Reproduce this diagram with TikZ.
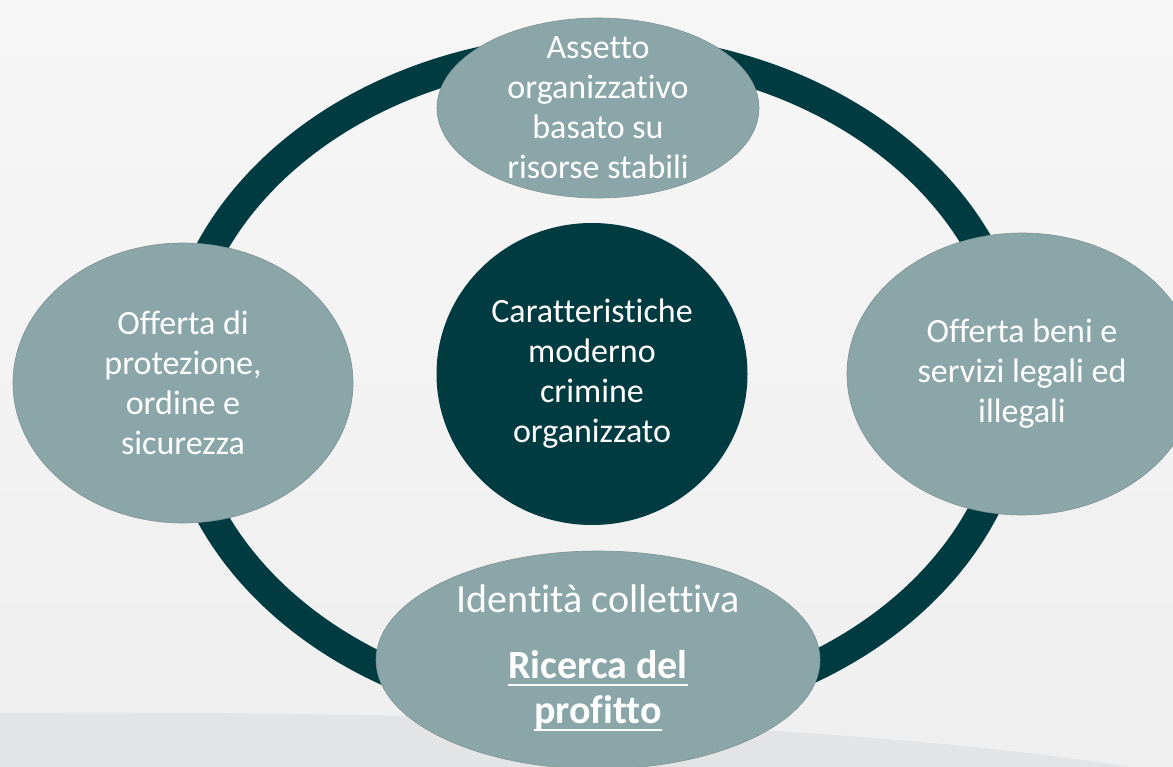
\documentclass[tikz,border=0pt]{standalone}
\usepackage{fontspec}
\setmainfont{Carlito}[Ligatures=NoCommon]
\usetikzlibrary{shapes.geometric}
\newcommand\ulined[1]{\setbox0\hbox{#1}\rlap{\rule[-0.17em]{\wd0}{0.05em}}\box0}
\begin{document}
\begin{tikzpicture}[x=1pt,y=-1pt,
  bubble/.style={ellipse,fill=bubblefill,draw=bubbleline,line width=0.6pt,inner sep=0pt},
  core/.style={ellipse,fill=ringteal,inner sep=0pt},
  bubbletext/.style={text=white,align=center,inner sep=0pt,font=\fontsize{34}{40}\selectfont}]
  \definecolor{ringteal}{HTML}{003B42}
  \definecolor{bubblefill}{HTML}{8AA6A9}
  \definecolor{bubbleline}{HTML}{7E9294}
  \definecolor{backtop}{HTML}{F7F6F7}
  \definecolor{backlow}{HTML}{EFEFF0}
  \definecolor{backband}{HTML}{E3E4E6}
  % backdrop
  \useasboundingbox (0,0) rectangle (1173,767);
  \shade [top color=backtop,bottom color=backlow] (0,0) rectangle (1173,767);
  \fill [backband] (0,713) .. controls (500,710) and (900,730) .. (1130,767) -- (0,767) -- cycle;
  % ring
  \draw [ringteal,line width=30pt] (596,382) ellipse [x radius=420pt,y radius=333pt];
  % bubbles
  \node [bubble,minimum width=322pt,minimum height=180pt] (assetto) at (598,108) {};
  \node [bubble,minimum width=340pt,minimum height=280pt] (protezione) at (183,383) {};
  \node [bubble,minimum width=350pt,minimum height=282pt] (beni) at (1022,374) {};
  \node [core,minimum width=311pt,minimum height=302pt] (centro) at (592,374) {};
  \node [bubble,minimum width=444pt,minimum height=218pt] (identita) at (598,660) {};
  % texts
  \node [bubbletext] (assetto text) at (assetto) {Assetto\\organizzativo\\basato su\\risorse stabili};
  \node [bubbletext] (protezione text) at (protezione) {Offerta di\\protezione,\\ordine e\\sicurezza};
  \node [bubbletext] (beni text) at (beni) {Offerta beni e\\servizi legali ed\\illegali};
  \node [bubbletext] (centro text) at (centro) {Caratteristiche\\moderno\\crimine\\organizzato};
  \node [bubbletext,font=\fontsize{40}{45}\selectfont] (identita text) at ([yshift=2pt]identita)
    {Identità collettiva\\[21pt]\ulined{\textbf{Ricerca del}}\\\ulined{\textbf{profitto}}};
\end{tikzpicture}
\end{document}
